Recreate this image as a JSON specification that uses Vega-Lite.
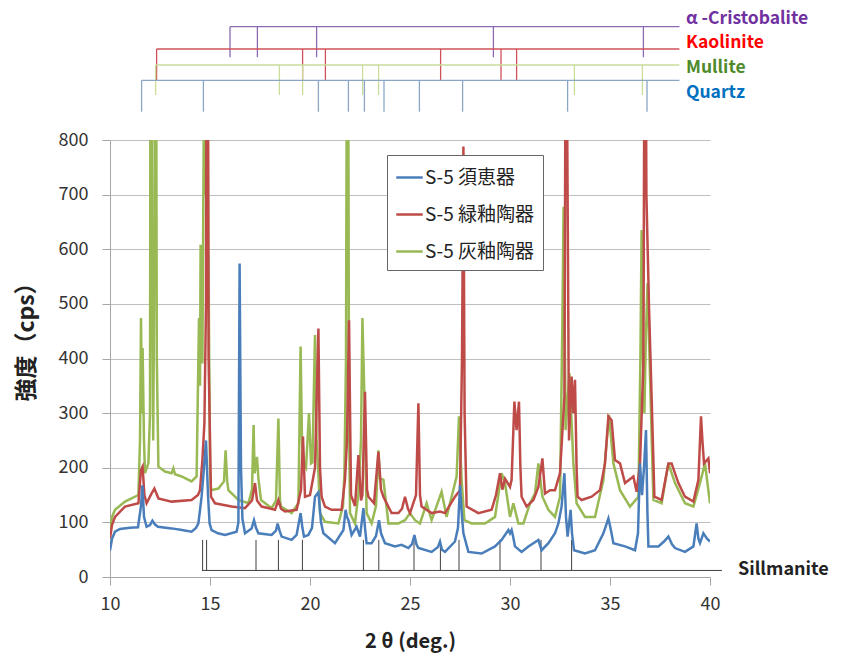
{
  "$schema": "https://vega.github.io/schema/vega-lite/v6.json",
  "width": 600,
  "height": 437,
  "autosize": {"type": "none"},
  "padding": {"left": 110, "top": 140, "right": 132, "bottom": 84},
  "background": "white",
  "config": {
    "font": "Noto Sans CJK JP",
    "view": {"stroke": null},
    "axis": {"labelFont": "Noto Sans CJK JP", "titleFont": "Noto Sans CJK JP"}
  },
  "datasets": {
    "blue": [
      {"x":10.0,"y":49},{"x":10.1,"y":70},{"x":10.25,"y":83},{"x":10.5,"y":88},{"x":11.0,"y":90},{"x":11.4,"y":91},{"x":11.55,"y":130},{"x":11.62,"y":168},{"x":11.7,"y":110},{"x":11.83,"y":92},{"x":12.0,"y":95},{"x":12.12,"y":103},{"x":12.25,"y":96},{"x":12.4,"y":92},{"x":13.08,"y":89},{"x":13.6,"y":86},{"x":14.08,"y":83},{"x":14.3,"y":90},{"x":14.42,"y":98},{"x":14.58,"y":147},{"x":14.7,"y":200},{"x":14.8,"y":250},{"x":14.9,"y":150},{"x":14.98,"y":98},{"x":15.08,"y":86},{"x":15.4,"y":80},{"x":15.75,"y":77},{"x":16.33,"y":83},{"x":16.42,"y":100},{"x":16.48,"y":574},{"x":16.55,"y":200},{"x":16.62,"y":107},{"x":16.75,"y":80},{"x":17.08,"y":89},{"x":17.2,"y":104},{"x":17.3,"y":90},{"x":17.42,"y":80},{"x":18.08,"y":77},{"x":18.3,"y":85},{"x":18.38,"y":98},{"x":18.48,"y":85},{"x":18.58,"y":74},{"x":19.08,"y":68},{"x":19.33,"y":77},{"x":19.53,"y":117},{"x":19.62,"y":90},{"x":19.7,"y":74},{"x":19.92,"y":77},{"x":20.1,"y":90},{"x":20.25,"y":147},{"x":20.42,"y":155},{"x":20.55,"y":100},{"x":20.67,"y":80},{"x":21.25,"y":62},{"x":21.67,"y":86},{"x":21.78,"y":123},{"x":21.85,"y":110},{"x":21.92,"y":104},{"x":22.08,"y":77},{"x":22.33,"y":92},{"x":22.5,"y":74},{"x":22.67,"y":126},{"x":22.75,"y":90},{"x":22.83,"y":62},{"x":23.08,"y":62},{"x":23.3,"y":75},{"x":23.45,"y":104},{"x":23.55,"y":80},{"x":23.75,"y":62},{"x":24.25,"y":56},{"x":24.58,"y":59},{"x":24.92,"y":53},{"x":25.1,"y":60},{"x":25.22,"y":77},{"x":25.32,"y":60},{"x":25.42,"y":53},{"x":26.08,"y":46},{"x":26.4,"y":55},{"x":26.5,"y":65},{"x":26.6,"y":50},{"x":26.75,"y":46},{"x":27.25,"y":65},{"x":27.4,"y":90},{"x":27.5,"y":168},{"x":27.6,"y":110},{"x":27.67,"y":80},{"x":27.92,"y":46},{"x":28.58,"y":43},{"x":29.25,"y":56},{"x":29.58,"y":68},{"x":29.92,"y":86},{"x":30.0,"y":80},{"x":30.08,"y":86},{"x":30.15,"y":75},{"x":30.25,"y":56},{"x":30.58,"y":46},{"x":30.92,"y":56},{"x":31.42,"y":68},{"x":31.58,"y":49},{"x":31.92,"y":62},{"x":32.25,"y":80},{"x":32.42,"y":98},{"x":32.58,"y":129},{"x":32.72,"y":190},{"x":32.8,"y":110},{"x":32.88,"y":74},{"x":33.03,"y":123},{"x":33.1,"y":80},{"x":33.2,"y":49},{"x":33.75,"y":43},{"x":34.25,"y":49},{"x":34.67,"y":80},{"x":34.92,"y":107},{"x":35.05,"y":85},{"x":35.17,"y":62},{"x":35.75,"y":56},{"x":36.25,"y":49},{"x":36.4,"y":80},{"x":36.5,"y":208},{"x":36.6,"y":150},{"x":36.7,"y":200},{"x":36.8,"y":269},{"x":36.87,"y":120},{"x":36.92,"y":56},{"x":37.42,"y":56},{"x":37.7,"y":65},{"x":37.92,"y":74},{"x":38.1,"y":60},{"x":38.25,"y":53},{"x":38.75,"y":46},{"x":39.17,"y":56},{"x":39.33,"y":98},{"x":39.42,"y":70},{"x":39.5,"y":62},{"x":39.67,"y":80},{"x":39.85,"y":70},{"x":40.0,"y":65}
    ],
    "red": [
      {"x":10.0,"y":71},{"x":10.1,"y":95},{"x":10.25,"y":110},{"x":10.75,"y":129},{"x":11.42,"y":135},{"x":11.55,"y":196},{"x":11.63,"y":202},{"x":11.72,"y":150},{"x":11.83,"y":135},{"x":12.08,"y":153},{"x":12.22,"y":162},{"x":12.42,"y":144},{"x":13.08,"y":138},{"x":14.08,"y":141},{"x":14.4,"y":150},{"x":14.5,"y":159},{"x":14.62,"y":214},{"x":14.72,"y":281},{"x":14.8,"y":500},{"x":14.86,"y":1500},{"x":14.93,"y":400},{"x":15.05,"y":147},{"x":15.25,"y":135},{"x":16.08,"y":129},{"x":16.75,"y":126},{"x":17.1,"y":140},{"x":17.25,"y":172},{"x":17.35,"y":140},{"x":17.58,"y":129},{"x":18.25,"y":123},{"x":18.42,"y":141},{"x":18.55,"y":125},{"x":18.75,"y":120},{"x":19.33,"y":123},{"x":19.55,"y":159},{"x":19.65,"y":257},{"x":19.75,"y":147},{"x":20.0,"y":150},{"x":20.25,"y":200},{"x":20.42,"y":455},{"x":20.5,"y":200},{"x":20.58,"y":147},{"x":20.75,"y":129},{"x":21.08,"y":123},{"x":21.58,"y":123},{"x":21.75,"y":178},{"x":21.85,"y":250},{"x":21.95,"y":470},{"x":22.05,"y":150},{"x":22.25,"y":130},{"x":22.42,"y":223},{"x":22.55,"y":140},{"x":22.62,"y":150},{"x":22.75,"y":339},{"x":22.85,"y":160},{"x":22.92,"y":147},{"x":23.2,"y":135},{"x":23.42,"y":229},{"x":23.55,"y":160},{"x":23.67,"y":147},{"x":24.08,"y":117},{"x":24.42,"y":117},{"x":24.6,"y":125},{"x":24.75,"y":147},{"x":24.9,"y":125},{"x":25.0,"y":117},{"x":25.3,"y":150},{"x":25.42,"y":318},{"x":25.5,"y":150},{"x":25.58,"y":129},{"x":26.08,"y":117},{"x":26.5,"y":120},{"x":26.75,"y":117},{"x":27.25,"y":147},{"x":27.5,"y":159},{"x":27.6,"y":400},{"x":27.67,"y":788},{"x":27.73,"y":300},{"x":27.83,"y":129},{"x":28.42,"y":117},{"x":29.08,"y":123},{"x":29.3,"y":150},{"x":29.5,"y":190},{"x":29.62,"y":160},{"x":29.75,"y":180},{"x":30.0,"y":165},{"x":30.08,"y":178},{"x":30.22,"y":321},{"x":30.33,"y":269},{"x":30.45,"y":321},{"x":30.52,"y":200},{"x":30.58,"y":147},{"x":30.83,"y":129},{"x":31.17,"y":141},{"x":31.42,"y":165},{"x":31.62,"y":217},{"x":31.75,"y":153},{"x":32.0,"y":159},{"x":32.25,"y":159},{"x":32.5,"y":190},{"x":32.72,"y":330},{"x":32.8,"y":1200},{"x":32.88,"y":700},{"x":32.95,"y":250},{"x":33.08,"y":367},{"x":33.17,"y":300},{"x":33.25,"y":361},{"x":33.33,"y":200},{"x":33.38,"y":147},{"x":33.58,"y":141},{"x":34.08,"y":147},{"x":34.5,"y":159},{"x":34.75,"y":208},{"x":34.92,"y":294},{"x":35.08,"y":287},{"x":35.25,"y":214},{"x":35.5,"y":208},{"x":35.75,"y":172},{"x":36.17,"y":184},{"x":36.33,"y":156},{"x":36.5,"y":208},{"x":36.67,"y":391},{"x":36.75,"y":1300},{"x":36.82,"y":700},{"x":36.95,"y":495},{"x":37.08,"y":330},{"x":37.22,"y":147},{"x":37.58,"y":141},{"x":37.92,"y":208},{"x":38.08,"y":208},{"x":38.42,"y":172},{"x":38.75,"y":147},{"x":39.17,"y":138},{"x":39.42,"y":178},{"x":39.55,"y":294},{"x":39.62,"y":250},{"x":39.7,"y":208},{"x":39.92,"y":217},{"x":40.0,"y":190}
    ],
    "green": [
      {"x":10.0,"y":86},{"x":10.1,"y":110},{"x":10.25,"y":123},{"x":10.75,"y":138},{"x":11.42,"y":150},{"x":11.5,"y":250},{"x":11.55,"y":474},{"x":11.6,"y":300},{"x":11.63,"y":419},{"x":11.7,"y":250},{"x":11.75,"y":190},{"x":11.92,"y":208},{"x":12.0,"y":300},{"x":12.04,"y":1500},{"x":12.1,"y":600},{"x":12.16,"y":250},{"x":12.22,"y":600},{"x":12.28,"y":1500},{"x":12.34,"y":400},{"x":12.42,"y":202},{"x":12.75,"y":193},{"x":13.08,"y":190},{"x":13.17,"y":199},{"x":13.25,"y":188},{"x":13.58,"y":184},{"x":14.08,"y":175},{"x":14.33,"y":184},{"x":14.45,"y":474},{"x":14.5,"y":350},{"x":14.53,"y":608},{"x":14.62,"y":391},{"x":14.7,"y":900},{"x":14.76,"y":700},{"x":14.84,"y":1200},{"x":14.92,"y":600},{"x":15.0,"y":200},{"x":15.05,"y":159},{"x":15.42,"y":162},{"x":15.7,"y":175},{"x":15.78,"y":232},{"x":15.86,"y":175},{"x":15.92,"y":159},{"x":16.42,"y":141},{"x":16.92,"y":135},{"x":17.1,"y":160},{"x":17.18,"y":278},{"x":17.23,"y":190},{"x":17.28,"y":202},{"x":17.35,"y":220},{"x":17.42,"y":180},{"x":17.55,"y":141},{"x":18.08,"y":126},{"x":18.3,"y":140},{"x":18.42,"y":290},{"x":18.5,"y":140},{"x":18.55,"y":129},{"x":19.08,"y":117},{"x":19.42,"y":135},{"x":19.53,"y":422},{"x":19.6,"y":250},{"x":19.67,"y":208},{"x":19.8,"y":200},{"x":19.95,"y":300},{"x":20.05,"y":208},{"x":20.12,"y":210},{"x":20.25,"y":443},{"x":20.33,"y":250},{"x":20.42,"y":190},{"x":20.5,"y":117},{"x":20.75,"y":101},{"x":21.42,"y":98},{"x":21.65,"y":130},{"x":21.72,"y":190},{"x":21.8,"y":400},{"x":21.88,"y":1500},{"x":21.95,"y":300},{"x":22.0,"y":117},{"x":22.25,"y":98},{"x":22.42,"y":153},{"x":22.55,"y":250},{"x":22.62,"y":474},{"x":22.72,"y":330},{"x":22.83,"y":117},{"x":23.08,"y":98},{"x":23.3,"y":130},{"x":23.42,"y":232},{"x":23.5,"y":180},{"x":23.67,"y":178},{"x":23.92,"y":98},{"x":24.42,"y":98},{"x":24.75,"y":104},{"x":25.0,"y":117},{"x":25.25,"y":104},{"x":25.5,"y":98},{"x":25.83,"y":135},{"x":26.08,"y":104},{"x":26.58,"y":156},{"x":26.83,"y":110},{"x":27.08,"y":147},{"x":27.33,"y":184},{"x":27.45,"y":294},{"x":27.58,"y":178},{"x":27.72,"y":104},{"x":28.08,"y":98},{"x":28.75,"y":98},{"x":29.25,"y":110},{"x":29.58,"y":190},{"x":29.75,"y":172},{"x":30.0,"y":110},{"x":30.17,"y":135},{"x":30.42,"y":98},{"x":30.67,"y":98},{"x":31.0,"y":135},{"x":31.25,"y":153},{"x":31.42,"y":208},{"x":31.62,"y":147},{"x":31.92,"y":123},{"x":32.25,"y":110},{"x":32.5,"y":147},{"x":32.62,"y":470},{"x":32.68,"y":678},{"x":32.75,"y":400},{"x":32.78,"y":269},{"x":32.97,"y":373},{"x":33.17,"y":208},{"x":33.33,"y":135},{"x":33.75,"y":110},{"x":34.25,"y":110},{"x":34.67,"y":178},{"x":34.95,"y":297},{"x":35.17,"y":208},{"x":35.5,"y":159},{"x":36.0,"y":129},{"x":36.42,"y":147},{"x":36.52,"y":400},{"x":36.58,"y":635},{"x":36.65,"y":400},{"x":36.72,"y":300},{"x":36.8,"y":450},{"x":36.88,"y":538},{"x":37.0,"y":367},{"x":37.17,"y":141},{"x":37.58,"y":135},{"x":37.92,"y":208},{"x":38.25,"y":172},{"x":38.75,"y":135},{"x":39.17,"y":129},{"x":39.5,"y":172},{"x":39.75,"y":208},{"x":40.0,"y":135}
    ],
    "sil": [
      {"x":14.63},{"x":14.83},{"x":17.3},{"x":18.42},{"x":19.62},{"x":22.67},{"x":23.44},{"x":25.2},{"x":26.52},{"x":27.45},{"x":29.5},{"x":31.55},{"x":33.08}
    ],
    "silbase": [{"x":14.6,"x2":40.6,"y":12,"label":"Sillmanite"}],
    "br": [
      {"m":"Cristobalite","x":16.0,"x2":38.47,"y":1007.4,"y2":1007.4},
      {"m":"Cristobalite","x":16.0,"x2":16.0,"y":1007.4,"y2":951.4},
      {"m":"Cristobalite","x":17.37,"x2":17.37,"y":1007.4,"y2":951.4},
      {"m":"Cristobalite","x":20.33,"x2":20.33,"y":1007.4,"y2":951.4},
      {"m":"Cristobalite","x":29.17,"x2":29.17,"y":1007.4,"y2":951.4},
      {"m":"Cristobalite","x":36.67,"x2":36.67,"y":1007.4,"y2":951.4},
      {"m":"Kaolinite","x":12.33,"x2":38.47,"y":966.6,"y2":966.6},
      {"m":"Kaolinite","x":12.33,"x2":12.33,"y":966.6,"y2":909.8},
      {"m":"Kaolinite","x":19.63,"x2":19.63,"y":966.6,"y2":909.8},
      {"m":"Kaolinite","x":20.77,"x2":20.77,"y":966.6,"y2":909.8},
      {"m":"Kaolinite","x":26.53,"x2":26.53,"y":966.6,"y2":909.8},
      {"m":"Kaolinite","x":29.55,"x2":29.55,"y":966.6,"y2":909.8},
      {"m":"Kaolinite","x":30.33,"x2":30.33,"y":966.6,"y2":909.8},
      {"m":"Mullite","x":12.28,"x2":38.47,"y":937.3,"y2":937.3},
      {"m":"Mullite","x":12.28,"x2":12.28,"y":937.3,"y2":882.4},
      {"m":"Mullite","x":18.47,"x2":18.47,"y":937.3,"y2":882.4},
      {"m":"Mullite","x":19.63,"x2":19.63,"y":937.3,"y2":882.4},
      {"m":"Mullite","x":22.63,"x2":22.63,"y":937.3,"y2":882.4},
      {"m":"Mullite","x":23.43,"x2":23.43,"y":937.3,"y2":882.4},
      {"m":"Mullite","x":33.22,"x2":33.22,"y":937.3,"y2":882.4},
      {"m":"Mullite","x":36.62,"x2":36.62,"y":937.3,"y2":882.4},
      {"m":"Quartz","x":11.58,"x2":38.47,"y":909.3,"y2":909.3},
      {"m":"Quartz","x":11.58,"x2":11.58,"y":909.3,"y2":851.8},
      {"m":"Quartz","x":14.67,"x2":14.67,"y":909.3,"y2":851.8},
      {"m":"Quartz","x":20.42,"x2":20.42,"y":909.3,"y2":851.8},
      {"m":"Quartz","x":21.92,"x2":21.92,"y":909.3,"y2":851.8},
      {"m":"Quartz","x":22.72,"x2":22.72,"y":909.3,"y2":851.8},
      {"m":"Quartz","x":23.7,"x2":23.7,"y":909.3,"y2":851.8},
      {"m":"Quartz","x":25.47,"x2":25.47,"y":909.3,"y2":851.8},
      {"m":"Quartz","x":27.63,"x2":27.63,"y":909.3,"y2":851.8},
      {"m":"Quartz","x":32.88,"x2":32.88,"y":909.3,"y2":851.8},
      {"m":"Quartz","x":36.85,"x2":36.85,"y":909.3,"y2":851.8}
    ],
    "lab": [
      {"m":"Cristobalite","t":"α -Cristobalite","x":38.8,"y":1021.5},
      {"m":"Kaolinite","t":"Kaolinite","x":38.8,"y":977},
      {"m":"Mullite","t":"Mullite","x":38.8,"y":932.5},
      {"m":"Quartz","t":"Quartz","x":38.8,"y":886.5}
    ]
  },
  "layer": [
    {
      "data": {"name": "sil"},
      "mark": {"type": "rule", "color": "#404040", "strokeWidth": 1, "clip": false},
      "encoding": {
        "x": {"field": "x", "type": "quantitative", "scale": {"domain": [10, 40], "nice": false},
          "axis": {"values": [10, 15, 20, 25, 30, 35, 40], "title": "2 θ (deg.)", "grid": false,
            "labelFlush": false, "domainColor": "#a6a6a6", "tickColor": "#a6a6a6", "tickSize": 8,
            "labelFontSize": 18, "labelColor": "#333333", "labelPadding": 10,
            "titleFontSize": 20, "titleFontWeight": "bold", "titleColor": "#222222",
            "titleX": 300, "titleY": 64, "titleBaseline": "middle"}},
        "y": {"datum": 68, "type": "quantitative", "scale": {"domain": [0, 800], "nice": false},
          "axis": {"values": [0, 100, 200, 300, 400, 500, 600, 700, 800], "title": "強度（cps）",
            "grid": true, "gridColor": "#bfbfbf", "domainColor": "#a6a6a6", "tickColor": "#a6a6a6",
            "tickSize": 8, "labelFontSize": 18, "labelColor": "#333333", "labelPadding": 14,
            "titleFontSize": 23, "titleFontWeight": "bold", "titleColor": "#222222",
            "titleX": -84, "titleY": 196, "titleBaseline": "middle", "titleAngle": -90}},
        "y2": {"datum": 12}
      }
    },
    {
      "data": {"name": "silbase"},
      "mark": {"type": "rule", "color": "#404040", "strokeWidth": 1, "clip": false},
      "encoding": {
        "x": {"field": "x", "type": "quantitative"},
        "x2": {"field": "x2"},
        "y": {"field": "y", "type": "quantitative"}
      }
    },
    {
      "data": {"name": "silbase"},
      "mark": {"type": "text", "align": "left", "baseline": "middle", "dx": 16, "fontSize": 18, "fontWeight": "bold", "color": "#222222", "clip": false},
      "encoding": {
        "x": {"field": "x2", "type": "quantitative"},
        "y": {"field": "y", "type": "quantitative"},
        "text": {"field": "label"}
      }
    },
    {
      "data": {"name": "br"},
      "mark": {"type": "rule", "strokeWidth": 1.3, "clip": false},
      "encoding": {
        "x": {"field": "x", "type": "quantitative"},
        "x2": {"field": "x2"},
        "y": {"field": "y", "type": "quantitative"},
        "y2": {"field": "y2"},
        "stroke": {"field": "m", "type": "nominal", "legend": null,
          "scale": {"domain": ["Cristobalite", "Kaolinite", "Mullite", "Quartz"], "range": ["#8a6ab0", "#d0505a", "#c9dc9a", "#8aa6c4"]}}
      }
    },
    {
      "data": {"name": "lab"},
      "mark": {"type": "text", "align": "left", "baseline": "middle", "fontSize": 17.5, "fontWeight": "bold", "clip": false},
      "encoding": {
        "x": {"field": "x", "type": "quantitative"},
        "y": {"field": "y", "type": "quantitative"},
        "text": {"field": "t"},
        "fill": {"field": "m", "type": "nominal", "legend": null,
          "scale": {"domain": ["Cristobalite", "Kaolinite", "Mullite", "Quartz"], "range": ["#7030a0", "#ff0000", "#4e8a2a", "#0070c0"]}}
      }
    },
    {
      "data": {"name": "green"},
      "mark": {"type": "line", "strokeWidth": 2.5, "clip": true},
      "encoding": {
        "x": {"field": "x", "type": "quantitative"},
        "y": {"field": "y", "type": "quantitative"},
        "color": {"datum": "S-5 灰釉陶器", "type": "nominal",
          "scale": {"domain": ["S-5 須恵器", "S-5 緑釉陶器", "S-5 灰釉陶器"], "range": ["#4a7ebb", "#be4b48", "#98b954"]},
          "legend": {"title": null, "orient": "none", "legendX": 277, "legendY": 15,
            "symbolType": "stroke", "symbolSize": 700, "symbolStrokeWidth": 2.5,
            "labelFontSize": 19, "labelColor": "#222222", "labelOffset": 1, "rowPadding": 12,
            "padding": 8, "fillColor": "white", "strokeColor": "#666666", "labelLimit": 300}}
      }
    },
    {
      "data": {"name": "red"},
      "mark": {"type": "line", "strokeWidth": 2.5, "clip": true},
      "encoding": {
        "x": {"field": "x", "type": "quantitative"},
        "y": {"field": "y", "type": "quantitative"},
        "color": {"datum": "S-5 緑釉陶器", "type": "nominal"}
      }
    },
    {
      "data": {"name": "blue"},
      "mark": {"type": "line", "strokeWidth": 2.5, "clip": true},
      "encoding": {
        "x": {"field": "x", "type": "quantitative"},
        "y": {"field": "y", "type": "quantitative"},
        "color": {"datum": "S-5 須恵器", "type": "nominal"}
      }
    }
  ]
}
